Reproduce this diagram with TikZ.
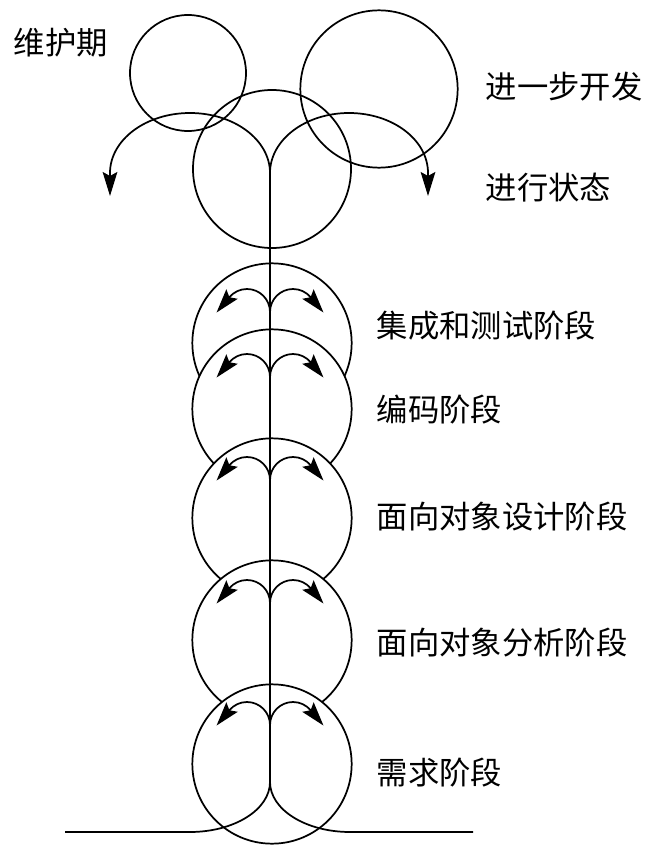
\documentclass[tikz,border=0pt]{standalone}
\usepackage{fontspec}
\newfontfamily\cjk{Noto Sans CJK SC}
\usetikzlibrary{arrows.meta}
\begin{document}
\begin{tikzpicture}[yscale=-1,x=0.75pt,y=0.75pt,line width=1.3pt,
  every node/.style={font=\cjk\fontsize{23.5}{28}\selectfont},
  flow/.style={-{Stealth[length=18pt,width=11pt,inset=3pt]}}]
\useasboundingbox (0,0) rectangle (658,852);
\coordinate (F01) at (270,173);
\coordinate (F02) at (270,312);
\coordinate (F03) at (270,377);
\coordinate (F04) at (270,480);
\coordinate (F05) at (270,603);
\coordinate (F06) at (270,725);
\coordinate (F07) at (270,782);
\coordinate (G01) at (65,832);
\coordinate (G02) at (473,832);
\node[draw=black,circle,minimum size=118.5pt,inner sep=0] (C01) at (272,169) {};
\node[draw=black,circle,minimum size=87pt,inner sep=0] (C02) at (188,73) {};
\node[draw=black,circle,minimum size=118pt,inner sep=0] (C03) at (379,89) {};
\node[draw=black,fill=white,circle,minimum size=119.5pt,inner sep=0] (C04) at (272,343) {};
\node[draw=black,fill=white,circle,minimum size=119.5pt,inner sep=0] (C05) at (272,409) {};
\node[draw=black,fill=white,circle,minimum size=119.5pt,inner sep=0] (C06) at (272,518) {};
\node[draw=black,fill=white,circle,minimum size=119.5pt,inner sep=0] (C07) at (272,640) {};
\node[draw=black,fill=white,circle,minimum size=119.5pt,inner sep=0] (C08) at (272,764) {};
\draw[flow] (F01) arc[start angle=0,end angle=-180,x radius=80,y radius=60] -- ++(0,23);
\draw[flow] (F01) arc[start angle=180,end angle=360,x radius=79,y radius=60] -- ++(0,23);
\foreach \f in {F02,F03,F04,F05,F06} {
  \draw[flow] (\f) arc[start angle=0,end angle=-140,radius=23] -- ++(130:20);
  \draw[flow] (\f) arc[start angle=180,end angle=320,radius=23] -- ++(50:20);
}
\draw (F01) -- (F07);
\draw (F07) arc[start angle=0,end angle=90,x radius=80,y radius=50] -- (G01);
\draw (F07) arc[start angle=180,end angle=90,x radius=80,y radius=50] -- (G02);
\node[anchor=west,inner sep=0] (L01) at (13,43) {维护期};
\node[anchor=west,inner sep=0] (L02) at (485,87) {进一步开发};
\node[anchor=west,inner sep=0] (L03) at (485,188) {进行状态};
\node[anchor=west,inner sep=0] (L04) at (376,326) {集成和测试阶段};
\node[anchor=west,inner sep=0] (L05) at (376,410) {编码阶段};
\node[anchor=west,inner sep=0] (L06) at (376,517) {面向对象设计阶段};
\node[anchor=west,inner sep=0] (L07) at (376,643) {面向对象分析阶段};
\node[anchor=west,inner sep=0] (L08) at (376,773) {需求阶段};
\end{tikzpicture}
\end{document}
